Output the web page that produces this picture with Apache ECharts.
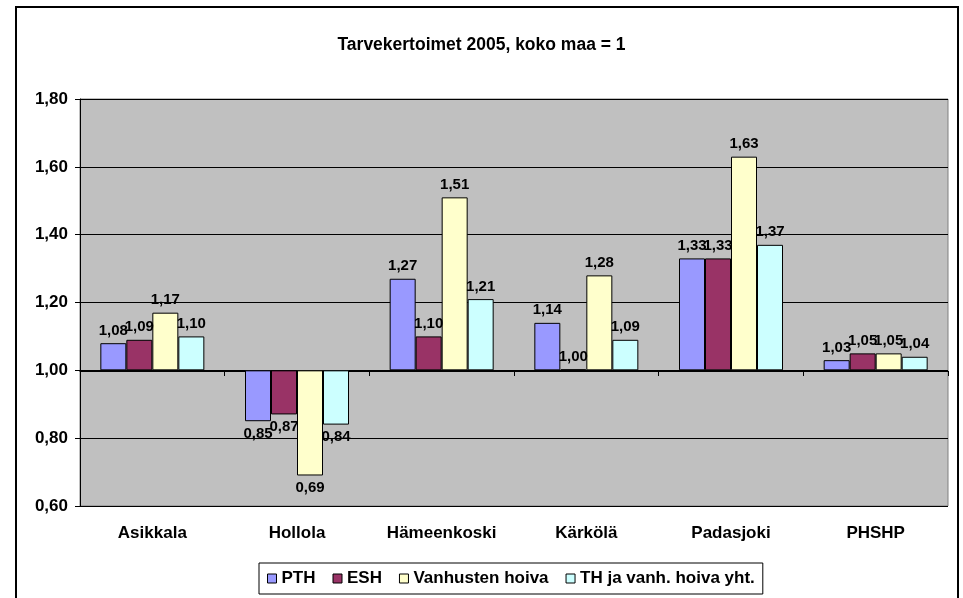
<!DOCTYPE html>
<html>
<head>
<meta charset="utf-8">
<script src="https://cdn.jsdelivr.net/npm/echarts@6/dist/echarts.min.js"></script>
<style>
  html, body { margin: 0; padding: 0; background: #fff; }
  #chart { width: 963px; height: 598px; }
</style>
</head>
<body>
<div id="chart"></div>
<script>
const categories = ['Asikkala', 'Hollola', 'Hämeenkoski', 'Kärkölä', 'Padasjoki', 'PHSHP'];
const seriesNames = ['PTH', 'ESH', 'Vanhusten hoiva', 'TH ja vanh. hoiva yht.'];
const pth = [1.08, 0.85, 1.27, 1.14, 1.33, 1.03];
const esh = [1.09, 0.87, 1.10, 1.00, 1.33, 1.05];
const vanhusten = [1.17, 0.69, 1.51, 1.28, 1.63, 1.05];
const thYht = [1.10, 0.84, 1.21, 1.09, 1.37, 1.04];
const colors = ['#9999FF', '#993366', '#FFFFCC', '#CCFFFF'];
const baseline = 1;

const fmt = v => v.toFixed(2).replace('.', ',');
const font = 'Liberation Sans, Arial, sans-serif';

let series = [];
[pth, esh, vanhusten, thYht].forEach((vals, i) => {
    // transparent part below the bar, so bars grow from 1,00
    series.push({
        type: 'bar',
        stack: 's' + i,
        barWidth: 26,
        barGap: '0%',
        silent: true,
        itemStyle: { color: 'transparent' },
        data: vals.map(v => Math.min(v, baseline))
    });
    series.push({
        name: seriesNames[i],
        type: 'bar',
        stack: 's' + i,
        barWidth: 26,
        barGap: '0%',
        barMinHeight: 1,
        itemStyle: { color: colors[i], borderColor: '#000', borderWidth: 1 },
        label: {
            show: true,
            color: '#000',
            fontWeight: 'bold',
            fontSize: 15,
            fontFamily: font,
            distance: 5,
            formatter: p => fmt(vals[p.dataIndex])
        },
        data: vals.map(v => ({
            value: Math.abs(v - baseline),
            label: { position: v < baseline ? 'bottom' : 'top' }
        }))
    });
});

const chart = echarts.init(document.getElementById('chart'));
chart.setOption({
    animation: false,
    backgroundColor: '#fff',
    title: {
        text: 'Tarvekertoimet 2005, koko maa = 1',
        left: 'center',
        top: 31,
        textStyle: { fontSize: 17.5, fontWeight: 'bold', fontFamily: font, color: '#000' }
    },
    graphic: [{
        type: 'rect',
        shape: { x: 16, y: 7, width: 942, height: 610 },
        style: { fill: 'none', stroke: '#000', lineWidth: 2 },
        silent: true
    }],
    legend: {
        data: seriesNames,
        left: 259,
        top: 563,
        icon: 'rect',
        itemWidth: 9,
        itemHeight: 9,
        itemGap: 17,
        padding: [7, 8],
        borderColor: '#000',
        borderWidth: 1,
        backgroundColor: '#fff',
        itemStyle: { borderColor: '#000', borderWidth: 1 },
        textStyle: { fontSize: 17, fontWeight: 'bold', fontFamily: font, color: '#000' }
    },
    grid: {
        left: 80,
        right: 15,
        top: 99,
        bottom: 92,
        show: true,
        backgroundColor: '#C0C0C0',
        borderColor: '#808080',
        borderWidth: 1
    },
    xAxis: [{
        type: 'category',
        data: categories,
        axisLine: { show: false },
        axisTick: { show: false },
        axisLabel: { fontSize: 17, fontWeight: 'bold', fontFamily: font, color: '#000', margin: 19 }
    }, {
        // axis line crossing at 1,00
        type: 'category',
        data: categories,
        position: 'bottom',
        offset: -135,
        axisLine: { show: true, lineStyle: { color: '#000', width: 1 } },
        axisTick: { show: true, length: 5, lineStyle: { color: '#000' } },
        axisLabel: { show: false }
    }],
    yAxis: {
        type: 'value',
        min: 0.6,
        max: 1.8,
        interval: 0.2,
        axisLine: { show: true, lineStyle: { color: '#000' } },
        axisTick: { show: true, length: 5, lineStyle: { color: '#000' } },
        splitLine: { lineStyle: { color: '#000', width: 1 } },
        axisLabel: {
            fontSize: 17,
            fontWeight: 'bold',
            fontFamily: font,
            color: '#000',
            margin: 12,
            formatter: v => fmt(v)
        }
    },
    series: series
});
</script>
</body>
</html>
